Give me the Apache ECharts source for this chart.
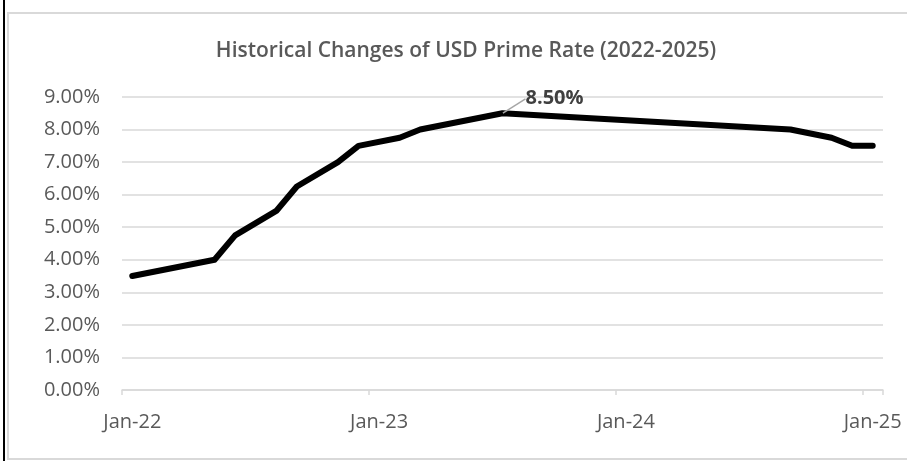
<!DOCTYPE html>
<html>
<head>
<meta charset="utf-8">
<script src="https://cdn.jsdelivr.net/npm/echarts@6/dist/echarts.min.js"></script>
<style>
html,body{margin:0;padding:0;background:#fff;}
#chart{width:907px;height:461px;}
</style>
</head>
<body>
<div id="chart"></div>
<script>
// Month categories (Jan-22 .. Jan-25)
const categories = [
  'Jan-22','Feb-22','Mar-22','Apr-22','May-22','Jun-22','Jul-22','Aug-22','Sep-22','Oct-22','Nov-22','Dec-22',
  'Jan-23','Feb-23','Mar-23','Apr-23','May-23','Jun-23','Jul-23','Aug-23','Sep-23','Oct-23','Nov-23','Dec-23',
  'Jan-24','Feb-24','Mar-24','Apr-24','May-24','Jun-24','Jul-24','Aug-24','Sep-24','Oct-24','Nov-24','Dec-24',
  'Jan-25'
];
// Prime rate (%) at change months; null = no observation
const primeRate = [
  3.50, null, null, null, 4.00, 4.75, null, 5.50, 6.25, null, 7.00, 7.50,
  null, 7.75, 8.00, null, null, null, 8.50, null, null, null, null, null,
  null, null, null, null, null, null, null, null, 8.00, null, 7.75, 7.50,
  7.50
];
const yTicks = [0, 1, 2, 3, 4, 5, 6, 7, 8, 9];
const peakLabel = '8.50%';
const titleText = 'Historical Changes of USD Prime Rate (2022-2025)';

const FONT = '"Open Sans", Lato, sans-serif';
const peakIdx = primeRate.indexOf(Math.max(...primeRate.filter(v => v !== null)));
const seriesData = primeRate.map((v, i) => {
  if (i === peakIdx) {
    return {
      value: v,
      symbol: 'circle',
      symbolSize: 1,
      itemStyle: { color: '#000' },
      label: {
        show: true, position: 'top', distance: 4,
        formatter: peakLabel,
        fontFamily: FONT, fontSize: 20, fontWeight: 'bold', color: '#404040'
      },
      labelLine: { show: true, lineStyle: { color: '#a6a6a6', width: 1.5 } }
    };
  }
  return v;
});

const chart = echarts.init(document.getElementById('chart'));
chart.setOption({
  animation: false,
  backgroundColor: '#fff',
  graphic: [
    { type: 'rect', shape: { x: 8, y: 13, width: 1000, height: 446 },
      style: { fill: 'none', stroke: '#d9d9d9', lineWidth: 2 }, silent: true },
    { type: 'line', shape: { x1: 4, y1: 0, x2: 4, y2: 461 },
      style: { stroke: '#000', lineWidth: 2 }, silent: true }
  ],
  title: {
    text: titleText,
    left: 461,
    textAlign: 'center',
    top: 36,
    textStyle: { fontFamily: FONT, fontSize: 21, fontWeight: 600, color: '#595959' }
  },
  grid: { left: 122, right: 24, top: 97, bottom: 71, containLabel: false },
  xAxis: {
    type: 'category',
    data: categories,
    boundaryGap: true,
    axisLine: { lineStyle: { color: '#d9d9d9', width: 1.5 } },
    axisTick: { show: true, interval: 11, length: 5, lineStyle: { color: '#d9d9d9', width: 1.5 } },
    axisLabel: { interval: 11, margin: 22, fontFamily: FONT, fontSize: 20, color: '#595959',
      alignMinLabel: 'center', alignMaxLabel: 'center' },
    splitLine: { show: false }
  },
  yAxis: {
    type: 'value',
    min: yTicks[0],
    max: yTicks[yTicks.length - 1],
    interval: 1,
    axisLine: { show: false },
    axisTick: { show: false },
    axisLabel: { margin: 22, fontFamily: FONT, fontSize: 20, color: '#595959',
      formatter: v => v.toFixed(2) + '%' },
    splitLine: { lineStyle: { color: '#d9d9d9', width: 1.5 } }
  },
  series: [{
    type: 'line',
    data: seriesData,
    connectNulls: true,
    showSymbol: true,
    symbol: 'none',
    lineStyle: { color: '#000', width: 6, cap: 'round', join: 'round' },
    labelLayout: { dx: 52, dy: 0 }
  }]
});
</script>
</body>
</html>
